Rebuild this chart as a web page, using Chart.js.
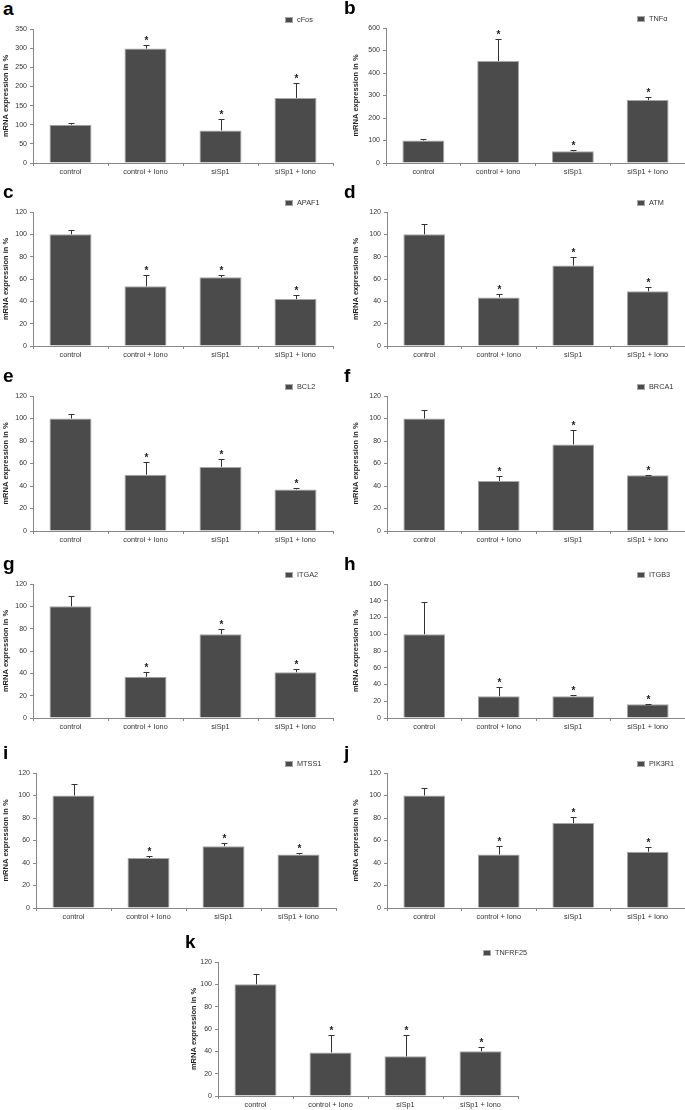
<!DOCTYPE html>
<html>
<head>
<meta charset="utf-8">
<script src="https://cdn.jsdelivr.net/npm/chart.js@4.4.1/dist/chart.umd.min.js"></script>
<style>
html, body { margin: 0; padding: 0; background: #fff; overflow: hidden; }
body { width: 685px; height: 1110px; position: relative; font-family: "Liberation Sans", Arial, sans-serif; }
canvas { position: absolute; }
.letter { position: absolute; font-weight: bold; font-size: 19px; line-height: 1; color: #000; }
</style>
</head>
<body>
<script>
// data
const categories = ['control', 'control + Iono', 'siSp1', 'siSp1 + Iono'];
const genes = ['cFos', 'TNFα', 'APAF1', 'ATM', 'BCL2', 'BRCA1', 'ITGA2', 'ITGB3', 'MTSS1', 'PIK3R1', 'TNFRF25'];

const cFos = [100, 299, 85, 170];      const cFosErr = [5, 9, 29, 38];
const tnfa = [100, 453, 52, 280];      const tnfaErr = [8, 97, 5, 12];
const apaf1 = [100, 53.5, 61.5, 42];   const apaf1Err = [3.5, 10, 2, 3.5];
const atm = [100, 43.5, 72, 49];       const atmErr = [9, 3, 8, 4];
const bcl2 = [100, 50, 57, 37];        const bcl2Err = [4, 11, 7, 1];
const brca1 = [100, 44.5, 77, 49.5];   const brca1Err = [8, 4, 13, 0.5];
const itga2 = [100, 37, 75, 41];       const itga2Err = [9.5, 4, 4.5, 2.5];
const itgb3 = [100, 26, 26, 16.5];     const itgb3Err = [39, 11.5, 1, 0.5];
const mtss1 = [100, 44.5, 55, 47.5];   const mtss1Err = [10, 1.5, 2.5, 1.5];
const pik3r1 = [100, 47.5, 75.5, 50];  const pik3r1Err = [6.5, 8, 5, 4.5];
const tnfrf25 = [100, 39, 35.5, 40];   const tnfrf25Err = [9.5, 16, 19, 4];

const significant = [false, true, true, true];
const values = [cFos, tnfa, apaf1, atm, bcl2, brca1, itga2, itgb3, mtss1, pik3r1, tnfrf25];
const errors = [cFosErr, tnfaErr, apaf1Err, atmErr, bcl2Err, brca1Err, itga2Err, itgb3Err, mtss1Err, pik3r1Err, tnfrf25Err];
const yMax = [350, 600, 120, 120, 120, 120, 120, 160, 120, 120, 120];
const yStep = [50, 100, 20, 20, 20, 20, 20, 20, 20, 20, 20];

// where each panel sits on the page
const boxes = [
  { letter: 'a', lx: 3,   left: 0,   axisX: 33,  top: 29,  bottom: 163,  right: 333, legX: 285 },
  { letter: 'b', lx: 344, left: 350, axisX: 386, top: 28,  bottom: 163,  right: 685, legX: 637 },
  { letter: 'c', lx: 3,   left: 0,   axisX: 33,  top: 212, bottom: 346,  right: 333, legX: 285 },
  { letter: 'd', lx: 344, left: 350, axisX: 387, top: 212, bottom: 346,  right: 685, legX: 637 },
  { letter: 'e', lx: 3,   left: 0,   axisX: 33,  top: 396, bottom: 531,  right: 333, legX: 285 },
  { letter: 'f', lx: 344, left: 350, axisX: 387, top: 396, bottom: 531,  right: 685, legX: 637 },
  { letter: 'g', lx: 3,   left: 0,   axisX: 33,  top: 584, bottom: 718,  right: 333, legX: 285 },
  { letter: 'h', lx: 344, left: 350, axisX: 387, top: 584, bottom: 718,  right: 685, legX: 637 },
  { letter: 'i', lx: 3,   left: 0,   axisX: 36,  top: 773, bottom: 908,  right: 336, legX: 285 },
  { letter: 'j', lx: 344, left: 350, axisX: 387, top: 773, bottom: 908,  right: 685, legX: 637 },
  { letter: 'k', lx: 185, left: 188, axisX: 218, top: 962, bottom: 1096, right: 518, legX: 483 }
];

const FONT = '"Liberation Sans", Arial, sans-serif';
const barFill = '#4b4b4b';
const barEdge = '#a6a6a6';

// error bars, stars and the little legend
const extras = {
  id: 'extras',
  afterDatasetsDraw(chart, args, opts) {
    const ctx = chart.ctx;
    const y = chart.scales.y;
    const ds = chart.data.datasets[0];
    const meta = chart.getDatasetMeta(0);
    ctx.save();
    meta.data.forEach((bar, i) => {
      const x = Math.round(bar.x) + 0.5;
      const top = Math.round(y.getPixelForValue(ds.data[i] + ds.errors[i])) + 0.5;
      ctx.strokeStyle = '#333';
      ctx.lineWidth = 1;
      ctx.beginPath();
      ctx.moveTo(x, bar.y);
      ctx.lineTo(x, top);
      ctx.moveTo(x - 3, top);
      ctx.lineTo(x + 3, top);
      ctx.stroke();
      if (ds.stars[i]) {
        ctx.fillStyle = '#222';
        ctx.font = 'bold 10px ' + FONT;
        ctx.textAlign = 'center';
        ctx.textBaseline = 'alphabetic';
        ctx.fillText('*', x, top - 2);
      }
    });
    // legend
    const lx = opts.legX, ly = opts.legY;
    ctx.fillStyle = barFill;
    ctx.fillRect(lx, ly - 3, 8, 6);
    ctx.strokeStyle = barEdge;
    ctx.strokeRect(lx + 0.5, ly - 2.5, 7, 5);
    ctx.fillStyle = '#333';
    ctx.font = '7.3px ' + FONT;
    ctx.textAlign = 'left';
    ctx.textBaseline = 'middle';
    ctx.fillText(ds.label, lx + 12, ly);
    ctx.restore();
  }
};

boxes.forEach((b, n) => {
  const letter = document.createElement('div');
  letter.className = 'letter';
  letter.textContent = b.letter;
  letter.style.left = b.lx + 'px';
  letter.style.top = (b.top - 14 - 16) + 'px';
  document.body.appendChild(letter);

  const cTop = b.top - 29;
  const w = Math.max(b.right, b.legX + 60) - b.left + 1;
  const h = b.bottom - b.top + 29 + 20;
  const cv = document.createElement('canvas');
  cv.width = w;
  cv.height = h;
  cv.style.left = b.left + 'px';
  cv.style.top = cTop + 'px';
  document.body.appendChild(cv);

  new Chart(cv.getContext('2d'), {
    type: 'bar',
    data: {
      labels: categories,
      datasets: [{
        label: genes[n],
        data: values[n],
        errors: errors[n],
        stars: significant,
        backgroundColor: barFill,
        borderColor: barEdge,
        borderWidth: 1,
        borderSkipped: 'start',
        barPercentage: 0.56,
        categoryPercentage: 1
      }]
    },
    options: {
      responsive: false,
      animation: false,
      events: [],
      layout: { padding: { top: 29, right: w - (b.right - b.left), left: 0, bottom: 0 } },
      plugins: {
        legend: { display: false },
        tooltip: { enabled: false },
        extras: { legX: b.legX - b.left, legY: b.top - 9 - cTop }
      },
      scales: {
        x: {
          afterFit: s => { s.height = 20; },
          grid: { drawOnChartArea: false, tickLength: 3, color: '#888', offset: true },
          border: { color: '#888' },
          ticks: { color: '#333', font: { family: FONT, size: 7.3 }, padding: 2, maxRotation: 0, autoSkip: false }
        },
        y: {
          min: 0,
          max: yMax[n],
          afterFit: s => { s.width = b.axisX - b.left; },
          grid: { drawOnChartArea: false, tickLength: 3, color: '#888' },
          border: { color: '#888' },
          ticks: { stepSize: yStep[n], color: '#333', font: { family: FONT, size: 7 }, padding: 3 },
          title: {
            display: true,
            text: 'mRNA expression in %',
            color: '#222',
            font: { family: FONT, size: 7.5, weight: 'bold' },
            padding: { top: 1, bottom: 0 }
          }
        }
      }
    },
    plugins: [extras]
  });
});
</script>
</body>
</html>
